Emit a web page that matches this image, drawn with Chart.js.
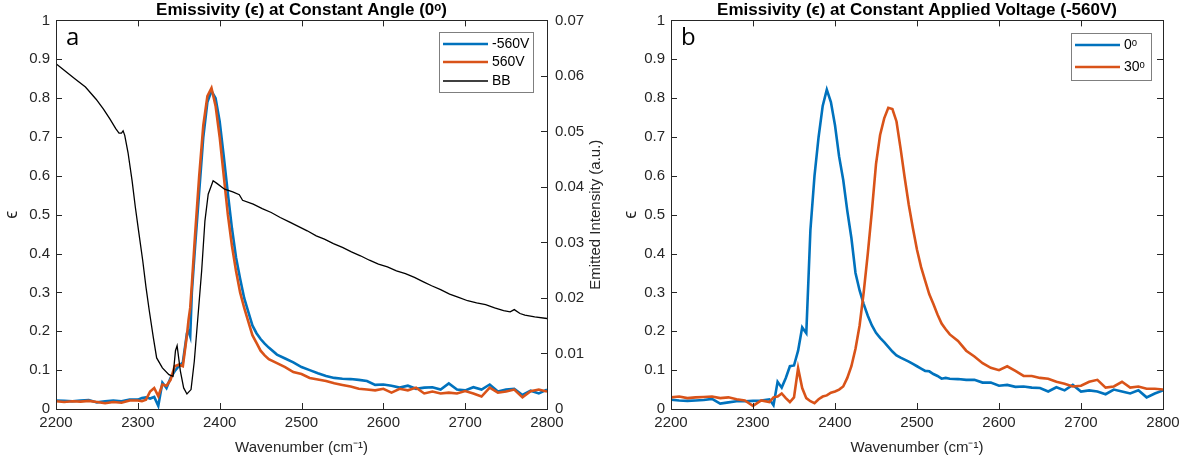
<!DOCTYPE html>
<html>
<head>
<meta charset="utf-8">
<script src="https://cdn.jsdelivr.net/npm/chart.js@4/dist/chart.umd.min.js"></script>
<style>
  body { margin: 0; background: #fff; }
  .panel { position: absolute; top: 0; }
</style>
</head>
<body>
<div class="panel" style="left:0"><canvas id="chartA" width="615" height="465"></canvas></div>
<div class="panel" style="left:615px"><canvas id="chartB" width="573" height="465"></canvas></div>
<script>
// panel a: emissivity at 0 deg for both voltages, plus blackbody (right axis)
const wnA = [
  2200, 2210, 2220, 2230, 2240, 2250, 2260, 2270, 2280, 2290, 2300,
  2305, 2310, 2315, 2320, 2325, 2330, 2335, 2340, 2345, 2350, 2355, 2360,
  2362, 2364, 2366,
  2370, 2375, 2380, 2385, 2390, 2395, 2400, 2405, 2410, 2415,
  2420, 2425, 2430, 2435, 2440, 2445, 2450, 2455, 2460,
  2470, 2480, 2490, 2500, 2510, 2520, 2530, 2540, 2550, 2560,
  2570, 2580, 2590, 2600, 2610, 2620, 2630, 2640, 2650, 2660,
  2670, 2680, 2690, 2700, 2710, 2720, 2730, 2740, 2750, 2760,
  2770, 2780, 2790, 2800
];
const negV = [
  0.022, 0.021, 0.020, 0.022, 0.023, 0.017, 0.020, 0.022, 0.020, 0.024, 0.024,
  0.028, 0.030, 0.027, 0.031, 0.008, 0.068, 0.054, 0.080, 0.097, 0.110, 0.120, 0.195,
  0.200, 0.187, 0.300,
  0.420, 0.560, 0.700, 0.790, 0.818, 0.800, 0.740, 0.650, 0.555, 0.465,
  0.390, 0.335, 0.285, 0.250, 0.215, 0.195, 0.180, 0.168, 0.158,
  0.140, 0.130, 0.120, 0.108, 0.100, 0.092, 0.085, 0.080, 0.078, 0.077,
  0.075, 0.072, 0.062, 0.063, 0.060, 0.055, 0.060, 0.052, 0.055, 0.056,
  0.050, 0.066, 0.050, 0.048, 0.056, 0.050, 0.063, 0.045, 0.050, 0.052,
  0.036, 0.047, 0.040, 0.050
];
const posV = [
  0.020, 0.018, 0.020, 0.019, 0.021, 0.018, 0.015, 0.018, 0.016, 0.022, 0.022,
  0.020, 0.024, 0.045, 0.054, 0.033, 0.063, 0.060, 0.075, 0.110, 0.114, 0.110, 0.190,
  0.230, 0.260, 0.320,
  0.450, 0.600, 0.730, 0.805, 0.826, 0.780, 0.700, 0.600, 0.500, 0.420,
  0.355, 0.300, 0.260, 0.225, 0.190, 0.170, 0.150, 0.138, 0.128,
  0.118, 0.108, 0.095, 0.090, 0.080, 0.076, 0.072, 0.066, 0.062, 0.058,
  0.052, 0.050, 0.048, 0.052, 0.042, 0.052, 0.048, 0.055, 0.040, 0.045,
  0.040, 0.042, 0.040, 0.046, 0.040, 0.032, 0.055, 0.042, 0.045, 0.050,
  0.030, 0.046, 0.050, 0.045
];
const wnBB = [
  2200, 2210, 2223, 2236, 2249, 2258, 2266, 2273, 2277, 2280,
  2282, 2284, 2288, 2293, 2297, 2301, 2306, 2310, 2314, 2319,
  2323, 2330, 2338, 2343, 2346, 2348, 2352, 2356, 2360, 2365,
  2369, 2373, 2378, 2382, 2386, 2392, 2397, 2406, 2416, 2424,
  2428, 2441, 2452, 2463, 2474, 2485, 2496, 2507, 2518, 2528,
  2539, 2550, 2561, 2572, 2583, 2594, 2605, 2616, 2627, 2638,
  2649, 2659, 2670, 2681, 2692, 2703, 2714, 2725, 2736, 2747,
  2755, 2760, 2767, 2773, 2785, 2800
];
const bb = [
  0.0622, 0.0610, 0.0595, 0.0580, 0.0558, 0.0540, 0.0522, 0.0505, 0.0497, 0.0497,
  0.0501, 0.0493, 0.0462, 0.0411, 0.0363, 0.0320, 0.0267, 0.0219, 0.0177, 0.0128,
  0.0092, 0.0074, 0.0062, 0.0059, 0.0105, 0.0114, 0.0068, 0.0038, 0.0027, 0.0035,
  0.0086, 0.0158, 0.0249, 0.0339, 0.0387, 0.0411, 0.0406, 0.0396, 0.0391, 0.0386,
  0.0376, 0.0369, 0.0361, 0.0354, 0.0345, 0.0337, 0.0329, 0.0321, 0.0312, 0.0306,
  0.0298, 0.0291, 0.0283, 0.0276, 0.0268, 0.0261, 0.0256, 0.0249, 0.0244, 0.0237,
  0.0229, 0.0222, 0.0215, 0.0207, 0.0201, 0.0195, 0.0191, 0.0188, 0.0182, 0.0177,
  0.0175, 0.0179, 0.0172, 0.0169, 0.0166, 0.0163
];

// panel b: emissivity at -560V for two angles
const wnB = [
  2200, 2210, 2220, 2230, 2240, 2250, 2260, 2270, 2280, 2290, 2300, 2310, 2320,
  2325, 2330, 2335, 2340, 2345, 2350, 2355, 2360, 2365, 2370,
  2375, 2380, 2385, 2390, 2395, 2400, 2405, 2410, 2415, 2420,
  2425, 2430, 2435, 2440, 2445, 2450, 2455, 2460, 2465, 2470,
  2475, 2480, 2485, 2490, 2495, 2500, 2505, 2510, 2515, 2520,
  2525, 2530, 2535, 2540,
  2550, 2560, 2570, 2580, 2590, 2600, 2610, 2620, 2630, 2640,
  2650, 2660, 2670, 2680, 2690, 2700, 2710, 2720, 2730, 2740,
  2750, 2760, 2770, 2780, 2790, 2800
];
const deg0 = [
  0.024, 0.022, 0.021, 0.022, 0.023, 0.026, 0.014, 0.017, 0.020, 0.020, 0.021, 0.022, 0.025,
  0.010, 0.070, 0.055, 0.080, 0.110, 0.112, 0.150, 0.210, 0.195, 0.460,
  0.600, 0.700, 0.780, 0.822, 0.790, 0.730, 0.650, 0.590, 0.510, 0.440,
  0.350, 0.305, 0.270, 0.240, 0.215, 0.196, 0.183, 0.172, 0.160, 0.148,
  0.138, 0.132, 0.127, 0.122, 0.116, 0.110, 0.104, 0.098, 0.097, 0.090,
  0.085, 0.078, 0.080, 0.078,
  0.077, 0.075, 0.075, 0.068, 0.068, 0.060, 0.062, 0.057, 0.058, 0.055,
  0.054, 0.045, 0.056, 0.048, 0.062, 0.045, 0.048, 0.045, 0.038, 0.050,
  0.045, 0.040, 0.048, 0.030, 0.040, 0.048
];
const deg30 = [
  0.030, 0.032, 0.028, 0.030, 0.031, 0.032, 0.028, 0.030, 0.025, 0.022, 0.008, 0.022, 0.018,
  0.030, 0.032, 0.040, 0.028, 0.018, 0.030, 0.105, 0.054, 0.028, 0.020,
  0.015, 0.025, 0.032, 0.035, 0.042, 0.045, 0.050, 0.058, 0.080, 0.110,
  0.155, 0.215, 0.300, 0.400, 0.510, 0.630, 0.705, 0.748, 0.775, 0.772,
  0.740, 0.670, 0.595, 0.525, 0.465, 0.410, 0.365, 0.330, 0.295, 0.270,
  0.243, 0.220, 0.205, 0.192,
  0.175, 0.150, 0.135, 0.118, 0.106, 0.100, 0.110, 0.098, 0.085, 0.085,
  0.080, 0.078, 0.070, 0.065, 0.058, 0.060, 0.070, 0.075, 0.055, 0.058,
  0.070, 0.055, 0.058, 0.052, 0.052, 0.050
];

const BLUE = '#0072BD';
const ORANGE = '#D95319';
const AXIS = '#262626';
const FONT = '"Liberation Sans", Arial, sans-serif';

function pts(xs, ys) {
  return xs.map((x, i) => ({ x: x, y: ys[i] }));
}
function fmt(v) {
  return String(+v.toFixed(2));
}

// box, inward tick marks, legend box, panel letter, right-hand title
const decor = {
  id: 'decor',
  afterDatasetsDraw(chart, args, o) {
    const { ctx, chartArea: a, scales } = chart;
    ctx.save();
    ctx.strokeStyle = AXIS;
    ctx.lineWidth = 1;
    ctx.strokeRect(Math.round(a.left) + 0.5, Math.round(a.top) + 0.5,
      Math.round(a.right - a.left), Math.round(a.bottom - a.top));
    ctx.beginPath();
    scales.x.ticks.forEach(t => {
      const px = Math.round(scales.x.getPixelForValue(t.value)) + 0.5;
      ctx.moveTo(px, a.bottom); ctx.lineTo(px, a.bottom - 6);
      ctx.moveTo(px, a.top); ctx.lineTo(px, a.top + 6);
    });
    scales.y.ticks.forEach(t => {
      const py = Math.round(scales.y.getPixelForValue(t.value)) + 0.5;
      ctx.moveTo(a.left, py); ctx.lineTo(a.left + 6, py);
      if (!scales.y2) { ctx.moveTo(a.right, py); ctx.lineTo(a.right - 6, py); }
    });
    if (scales.y2) {
      scales.y2.ticks.forEach(t => {
        const py = Math.round(scales.y2.getPixelForValue(t.value)) + 0.5;
        ctx.moveTo(a.right, py); ctx.lineTo(a.right - 6, py);
      });
    }
    ctx.stroke();

    // legend
    ctx.fillStyle = '#fff';
    ctx.fillRect(o.x, o.y, o.w, o.h);
    ctx.strokeStyle = '#7f7f7f';
    ctx.strokeRect(o.x + 0.5, o.y + 0.5, o.w, o.h);
    ctx.font = '14px ' + FONT;
    ctx.textBaseline = 'middle';
    chart.data.datasets.forEach((ds, i) => {
      const y = o.rows[i];
      ctx.strokeStyle = ds.borderColor;
      ctx.lineWidth = ds.borderWidth;
      ctx.beginPath();
      ctx.moveTo(o.x + 4, y); ctx.lineTo(o.x + 49, y);
      ctx.stroke();
      ctx.fillStyle = '#000';
      ctx.fillText(ds.label, o.x + 53, y);
    });

    // panel letter
    ctx.font = '24px "Open Sans", ' + FONT;
    ctx.textBaseline = 'alphabetic';
    ctx.fillStyle = '#000';
    ctx.fillText(o.letter, a.left + 10, a.top + 25);

    if (o.sideTitle) {
      ctx.translate(o.sideX, (a.top + a.bottom) / 2);
      ctx.rotate(-Math.PI / 2);
      ctx.textAlign = 'center';
      ctx.textBaseline = 'middle';
      ctx.font = '15px ' + FONT;
      ctx.fillStyle = AXIS;
      ctx.fillText(o.sideTitle, 0, 0);
    }
    ctx.restore();
  }
};

function xScale() {
  return {
    type: 'linear', min: 2200, max: 2800,
    grid: { display: false, drawTicks: false }, border: { display: false },
    ticks: { stepSize: 100, color: AXIS, font: { family: FONT, size: 15 }, padding: 5, callback: v => String(v), maxRotation: 0 },
    title: { display: true, text: 'Wavenumber (cm\u207B\u00B9)', color: AXIS, font: { family: FONT, size: 15 }, padding: { top: 2, bottom: 8 } },
    afterFit: s => { s.height = 56; }
  };
}
function yScale(titlePad) {
  return {
    type: 'linear', position: 'left', min: 0, max: 1,
    grid: { display: false, drawTicks: false }, border: { display: false },
    ticks: { stepSize: 0.1, color: AXIS, font: { family: FONT, size: 15 }, padding: 6, callback: fmt },
    title: { display: true, text: '\u03F5', color: AXIS, font: { family: FONT, size: 18 }, padding: titlePad },
    afterFit: s => { s.width = 56; }
  };
}
function titleOpts(text) {
  return {
    display: true, text: text, fullSize: false, color: '#000',
    font: { family: FONT, size: 17, weight: 'bold' },
    padding: { top: 0, bottom: 0 }
  };
}

new Chart(document.getElementById('chartA'), {
  type: 'line',
  data: {
    datasets: [
      { label: '-560V', data: pts(wnA, negV), borderColor: BLUE, borderWidth: 2.6, yAxisID: 'y', order: 3 },
      { label: '560V', data: pts(wnA, posV), borderColor: ORANGE, borderWidth: 2.6, yAxisID: 'y', order: 2 },
      { label: 'BB', data: pts(wnBB, bb), borderColor: '#000', borderWidth: 1.3, yAxisID: 'y2', order: 1 }
    ]
  },
  options: {
    responsive: false, animation: false, devicePixelRatio: 1,
    elements: { point: { radius: 0 }, line: { tension: 0 } },
    layout: { padding: 0 },
    scales: {
      x: xScale(),
      y: yScale({ top: 1, bottom: 1 }),
      y2: {
        type: 'linear', position: 'right', min: 0, max: 0.07,
        grid: { display: false, drawTicks: false }, border: { display: false },
        ticks: { stepSize: 0.01, color: AXIS, font: { family: FONT, size: 15 }, padding: 8, callback: fmt },
        afterFit: s => { s.width = 68; }
      }
    },
    plugins: {
      legend: { display: false },
      tooltip: { enabled: false },
      title: titleOpts('Emissivity (\u03F5) at Constant Angle (0\u1D52)'),
      decor: { x: 439, y: 32, w: 94, h: 60, rows: [44, 62, 81], letter: 'a', sideTitle: 'Emitted Intensity (a.u.)', sideX: 596 }
    }
  },
  plugins: [decor]
});

new Chart(document.getElementById('chartB'), {
  type: 'line',
  data: {
    datasets: [
      { label: '0\u1D52', data: pts(wnB, deg0), borderColor: BLUE, borderWidth: 2.6, order: 2 },
      { label: '30\u1D52', data: pts(wnB, deg30), borderColor: ORANGE, borderWidth: 2.6, order: 1 }
    ]
  },
  options: {
    responsive: false, animation: false, devicePixelRatio: 1,
    elements: { point: { radius: 0 }, line: { tension: 0 } },
    layout: { padding: { right: 25 } },
    scales: {
      x: xScale(),
      y: yScale({ top: 5, bottom: 1 })
    },
    plugins: {
      legend: { display: false },
      tooltip: { enabled: false },
      title: titleOpts('Emissivity (\u03F5) at Constant Applied Voltage (-560V)'),
      decor: { x: 456, y: 33, w: 80, h: 47, rows: [45, 67], letter: 'b' }
    }
  },
  plugins: [decor]
});
</script>
</body>
</html>
